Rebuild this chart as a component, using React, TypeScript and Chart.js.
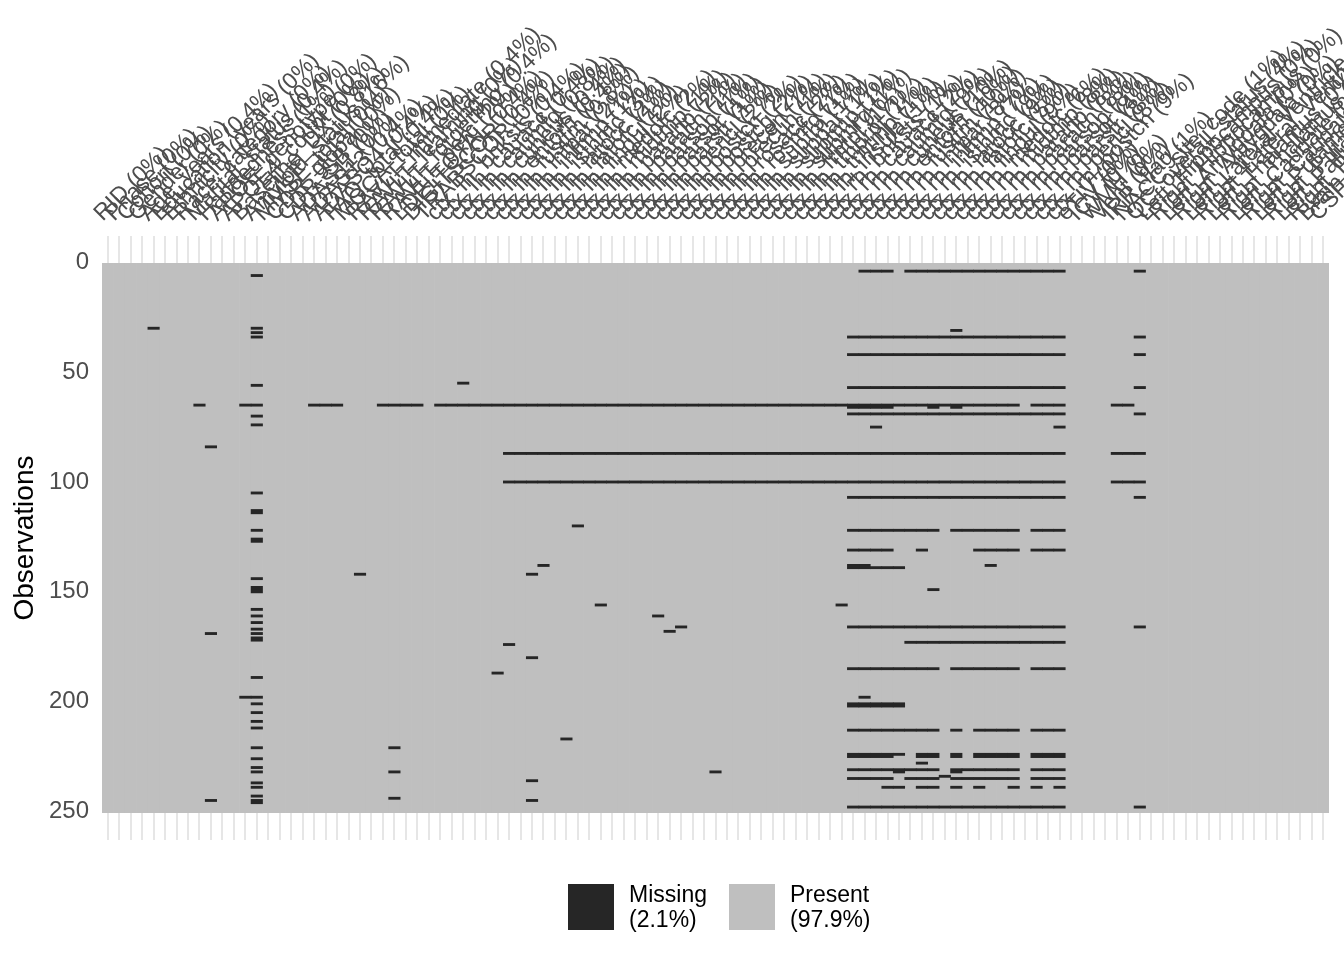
import React, { useEffect, useRef } from "react";
import { Chart, registerables } from "chart.js";

Chart.register(...registerables);

const N_ROWS = 250;

const columnNames: string[] = [
  "RID", "Phase", "Cohort", "Gender", "Age_years", "Education_years", "Ethnicity", "Race_category",
  "Marital_status", "Handedness", "APOE_genotype", "APOE4_count", "Baseline_DX", "Amyloid_status",
  "MMSE_total", "CDR_global", "CDR_SB", "ADAS11", "ADAS13", "ADASQ4", "FAQ_total", "MOCA_total",
  "RAVLT_immediate", "RAVLT_learning", "RAVLT_forgetting", "RAVLT_perc", "LDELTOTAL", "DIGITSCOR", "TRABSCOR",
  "ctx_lh_bnksts", "ctx_lh_cauacc", "ctx_lh_caumfg", "ctx_lh_cuneus", "ctx_lh_entorh", "ctx_lh_fusifm",
  "ctx_lh_infpar", "ctx_lh_inftmp", "ctx_lh_isthmc", "ctx_lh_latocc", "ctx_lh_latofc", "ctx_lh_lingul",
  "ctx_lh_medofc", "ctx_lh_midtmp", "ctx_lh_parahp", "ctx_lh_paracn", "ctx_lh_parsop", "ctx_lh_parsor",
  "ctx_lh_parstr", "ctx_lh_pericl", "ctx_lh_postcn", "ctx_lh_postcg", "ctx_lh_precen", "ctx_lh_precun",
  "ctx_lh_rosacc", "ctx_lh_rosmfg", "ctx_lh_supfrn", "ctx_lh_suppar", "ctx_lh_suptmp", "ctx_lh_supmrg",
  "ctx_lh_frntpl", "ctx_lh_tmprpl", "ctx_lh_trntmp", "ctx_lh_insula",
  "ctx_rh_bnksts", "ctx_rh_cauacc", "ctx_rh_caumfg", "ctx_rh_cuneus", "ctx_rh_entorh", "ctx_rh_fusifm",
  "ctx_rh_infpar", "ctx_rh_inftmp", "ctx_rh_isthmc", "ctx_rh_latocc", "ctx_rh_latofc", "ctx_rh_lingul",
  "ctx_rh_medofc", "ctx_rh_midtmp", "ctx_rh_parahp", "ctx_rh_paracn", "ctx_rh_parsop", "ctx_rh_parsor",
  "ctx_rh_parstr", "ctx_rh_pericl", "ctx_rh_postcn",
  "eTIV", "ICV", "WMH", "Vent",
  "IRR_flag", "NACC_site_code", "QC_overall_status", "Left_Hippocampus", "Right_Hippocampus",
  "Left_Amygdala", "Right_Amygdala", "Left_Lateral_Ventricle", "Right_Lateral_Ventricle",
  "Left_Thalamus", "Right_Thalamus", "Left_Caudate", "Right_Caudate", "Left_Putamen", "Right_Putamen",
  "Left_Pallidum", "Right_Pallidum", "Brain_Stem_volume", "CSF_volume",
];

const yTickValues = [0, 50, 100, 150, 200, 250];

// missing cells as horizontal runs: [row, firstColumn, lastColumn]
const missingRuns: [number, number, number][] = [
  [4, 66, 68], [4, 70, 83], [4, 90, 90],
  [6, 13, 13],
  [30, 4, 4], [30, 13, 13],
  [31, 74, 74],
  [32, 13, 13],
  [34, 13, 13], [34, 65, 83], [34, 90, 90],
  [42, 65, 83], [42, 90, 90],
  [55, 31, 31],
  [56, 13, 13],
  [57, 65, 83], [57, 90, 90],
  [65, 8, 8], [65, 12, 13], [65, 18, 20], [65, 24, 27], [65, 29, 79], [65, 81, 83], [65, 88, 89],
  [66, 65, 68], [66, 72, 72], [66, 74, 74],
  [69, 65, 83], [69, 90, 90],
  [70, 13, 13],
  [74, 13, 13],
  [75, 67, 67], [75, 83, 83],
  [84, 9, 9],
  [87, 35, 83], [87, 88, 90],
  [100, 35, 83], [100, 88, 90],
  [105, 13, 13],
  [107, 65, 83], [107, 90, 90],
  [113, 13, 13], [114, 13, 13],
  [120, 41, 41],
  [122, 13, 13], [122, 65, 72], [122, 74, 79], [122, 81, 83],
  [126, 13, 13], [127, 13, 13],
  [131, 65, 68], [131, 71, 71], [131, 76, 79], [131, 81, 83],
  [138, 38, 38], [138, 65, 66], [138, 77, 77],
  [139, 65, 69],
  [142, 22, 22], [142, 37, 37],
  [144, 13, 13], [148, 13, 13], [149, 13, 13], [149, 72, 72], [150, 13, 13],
  [156, 43, 43], [156, 64, 64],
  [158, 13, 13],
  [161, 13, 13], [161, 48, 48],
  [164, 13, 13],
  [166, 50, 50], [166, 65, 83], [166, 90, 90],
  [167, 13, 13],
  [168, 49, 49],
  [169, 9, 9], [169, 13, 13],
  [171, 13, 13], [172, 13, 13],
  [173, 70, 83],
  [174, 35, 35],
  [180, 37, 37],
  [185, 65, 72], [185, 74, 79], [185, 81, 83],
  [187, 34, 34],
  [189, 13, 13],
  [198, 12, 13], [198, 66, 66],
  [201, 13, 13], [201, 65, 69],
  [202, 65, 69],
  [205, 13, 13], [209, 13, 13], [212, 13, 13],
  [213, 65, 72], [213, 74, 74], [213, 76, 79], [213, 81, 83],
  [217, 40, 40],
  [221, 13, 13], [221, 25, 25],
  [224, 65, 69], [224, 71, 72], [224, 74, 74], [224, 76, 79], [224, 81, 83],
  [225, 65, 68], [225, 71, 72], [225, 74, 74], [225, 76, 79], [225, 81, 83],
  [226, 13, 13],
  [228, 71, 71],
  [230, 13, 13],
  [231, 65, 72], [231, 74, 79], [231, 81, 83],
  [232, 13, 13], [232, 25, 25], [232, 53, 53], [232, 69, 69], [232, 74, 74],
  [234, 73, 73],
  [235, 65, 68], [235, 70, 72], [235, 74, 79], [235, 81, 83],
  [236, 37, 37],
  [237, 13, 13],
  [239, 13, 13], [239, 68, 69], [239, 71, 72], [239, 74, 74], [239, 76, 76], [239, 79, 79], [239, 81, 81], [239, 83, 83],
  [243, 13, 13],
  [244, 25, 25],
  [245, 9, 9], [245, 13, 13], [245, 37, 37],
  [246, 13, 13],
  [248, 65, 83], [248, 90, 90],
];

const PRESENT_COLOR = "#bfbfbf";
const MISSING_COLOR = "#262626";
const FONT = '"Liberation Sans", Arial, Helvetica, sans-serif';

function pctText(p: number): string {
  if (p === 0) return "0%";
  if (p < 0.1) return "<0.1%";
  if (p < 1) return p.toFixed(1) + "%";
  return Math.round(p) + "%";
}

function buildMissingByCol(): number[][] {
  const byCol: number[][] = columnNames.map(() => []);
  for (const [row, c0, c1] of missingRuns) {
    for (let c = c0; c <= c1; c++) {
      if (!byCol[c].includes(row)) byCol[c].push(row);
    }
  }
  byCol.forEach((r) => r.sort((a, b) => a - b));
  return byCol;
}

export default function App() {
  const ref = useRef<HTMLCanvasElement | null>(null);
  const missingByCol = buildMissingByCol();
  const totalMissing = missingByCol.reduce((s, r) => s + r.length, 0);
  const missPct = (totalMissing / (columnNames.length * N_ROWS)) * 100;
  const missLabel = missPct.toFixed(1);
  const presLabel = (100 - missPct).toFixed(1);

  useEffect(() => {
    if (!ref.current) return;
    const runsByCol: [number, number][][] = missingByCol.map((rows) => {
      const runs: [number, number][] = [];
      for (const r of rows) {
        const last = runs[runs.length - 1];
        if (last && r === last[1] + 0.5) {
          last[1] = r + 0.5;
        } else {
          runs.push([r - 0.5, r + 0.5]);
        }
      }
      return runs;
    });
    const maxRuns = Math.max(...runsByCol.map((r) => r.length));
    const labels = columnNames.map(
      (n, i) => `${n} (${pctText((missingByCol[i].length / N_ROWS) * 100)})`
    );
    const datasets: any[] = [
      {
        label: "Present",
        data: labels.map(() => [0.5, N_ROWS + 0.5]),
        backgroundColor: PRESENT_COLOR,
        order: 1,
      },
    ];
    for (let k = 0; k < maxRuns; k++) {
      datasets.push({
        label: "Missing",
        data: runsByCol.map((r) => (r[k] ? r[k] : null)),
        backgroundColor: MISSING_COLOR,
        order: 0,
      });
    }

    const chart = new Chart(ref.current, {
      type: "bar",
      data: { labels, datasets },
      options: {
        responsive: false,
        animation: false,
        layout: { padding: { top: 0, left: 0, right: 15, bottom: 120 }, autoPadding: false },
        datasets: {
          bar: {
            grouped: false,
            categoryPercentage: 1,
            barPercentage: 1,
            borderWidth: 0,
          },
        },
        plugins: { legend: { display: false }, tooltip: { enabled: false } },
        scales: {
          x: {
            type: "category",
            position: "top",
            offset: true,
            grid: { display: true, offset: false, color: "#e6e6e6", lineWidth: 2, drawTicks: false },
            border: { display: false },
            ticks: {
              autoSkip: false,
              minRotation: 45,
              maxRotation: 45,
              padding: 9,
              labelOffset: 10,
              color: "#4d4d4d",
              font: { family: FONT, size: 23 },
            },
            afterFit: (s: any) => {
              s.height = 236;
              s.paddingLeft = 0;
              s.paddingRight = 0;
            },
          },
          y: {
            type: "linear",
            reverse: true,
            min: -12,
            max: 263,
            grid: { display: false, drawTicks: false },
            border: { display: false },
            afterBuildTicks: (s: any) => {
              s.ticks = yTickValues.map((v) => ({ value: v }));
            },
            ticks: { padding: 13, color: "#4d4d4d", font: { family: FONT, size: 24 } },
            title: {
              display: true,
              text: "Observations",
              color: "#000000",
              font: { family: FONT, size: 28 },
              padding: { top: 8, bottom: 0 },
            },
            afterFit: (s: any) => {
              s.width = 102;
            },
          },
        },
      } as any,
    });
    return () => chart.destroy();
  }, []);

  const textStyle: React.CSSProperties = {
    position: "absolute",
    fontFamily: FONT,
    fontSize: 23,
    lineHeight: "25px",
    color: "#000",
    whiteSpace: "pre",
  };

  return (
    <div style={{ position: "absolute", left: 0, top: 0, width: 1344, height: 960, background: "#fff" }}>
      <canvas ref={ref} width={1344} height={960} style={{ display: "block" }} />
      <div style={{ position: "absolute", left: 568, top: 884, width: 46, height: 46, background: MISSING_COLOR }} />
      <div style={{ ...textStyle, left: 629, top: 882 }}>{`Missing\n(${missLabel}%)`}</div>
      <div style={{ position: "absolute", left: 729, top: 884, width: 46, height: 46, background: PRESENT_COLOR }} />
      <div style={{ ...textStyle, left: 790, top: 882 }}>{`Present\n(${presLabel}%)`}</div>
    </div>
  );
}
